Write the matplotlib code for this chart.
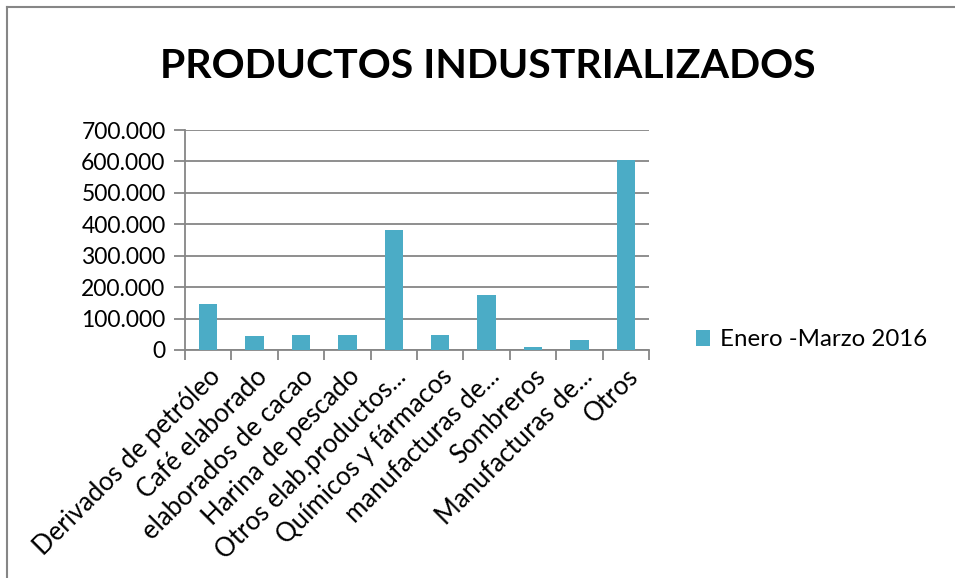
# coding: UTF-8
import matplotlib
matplotlib.use('Agg')
import matplotlib.pyplot as plt
from matplotlib.lines import Line2D
from matplotlib.ticker import FuncFormatter

categorias = ['Derivados de petróleo', 'Café elaborado', 'elaborados de cacao',
              'Harina de pescado', 'Otros elab.productos...', 'Químicos y fármacos',
              'manufacturas de...', 'Sombreros', 'Manufacturas de...', 'Otros']
valores = [146000, 44500, 46500, 46500, 382000, 46500, 175000, 10500, 31500, 605500]
serie = 'Enero -Marzo 2016'
titulo = 'PRODUCTOS INDUSTRIALIZADOS'

plt.rcParams['font.family'] = ['Lato', 'DejaVu Sans']

fig = plt.figure(figsize=(9.55, 5.78), dpi=100)
ax = fig.add_axes([0.1937, 0.3945, 0.4859, 0.3805])

x = range(len(categorias))
ax.bar(x, valores, width=0.4, color='#4BACC6', label=serie, zorder=3)

gris = '#868686'
ax.set_xlim(-0.5, len(categorias) - 0.5)
ax.set_ylim(0, 700000)
ax.set_yticks(range(0, 700001, 100000))
ax.yaxis.set_major_formatter(FuncFormatter(lambda v, p: '{:,.0f}'.format(v).replace(',', '.')))
ax.yaxis.grid(True, color=gris, linewidth=1.3, zorder=0)
ax.tick_params(axis='y', length=8, width=1.3, color=gris, labelsize=16.5, pad=6)

# marcas entre categorias
ax.set_xticks([i - 0.5 for i in range(len(categorias) + 1)], minor=False)
ax.set_xticklabels([])
ax.tick_params(axis='x', which='major', length=7, width=1.3, color=gris)
ax.set_xticks(list(x), minor=True)
ax.set_xticklabels(categorias, minor=True, rotation=45, ha='right',
                   rotation_mode='anchor', fontsize=18.5)
ax.tick_params(axis='x', which='minor', length=0, pad=10)

for s in ['top', 'right']:
    ax.spines[s].set_visible(False)
ax.spines['left'].set_color(gris)
ax.spines['left'].set_linewidth(1.3)
ax.spines['bottom'].set_color(gris)
ax.spines['bottom'].set_linewidth(1.3)

fig.text(0.511, 0.885, titulo, ha='center', va='center', fontsize=29.5, fontweight='bold')

fig.legend(loc='center left', bbox_to_anchor=(0.706, 0.412), frameon=False,
           fontsize=17.3, handlelength=0.6, handleheight=0.6, handletextpad=0.4)

# borde del grafico
fig.add_artist(Line2D([0.007, 1.0], [0.988, 0.988], color=gris, linewidth=1.5))
fig.add_artist(Line2D([0.007, 0.007], [0.0, 0.988], color=gris, linewidth=1.5))

plt.savefig('out.png', dpi=100)
